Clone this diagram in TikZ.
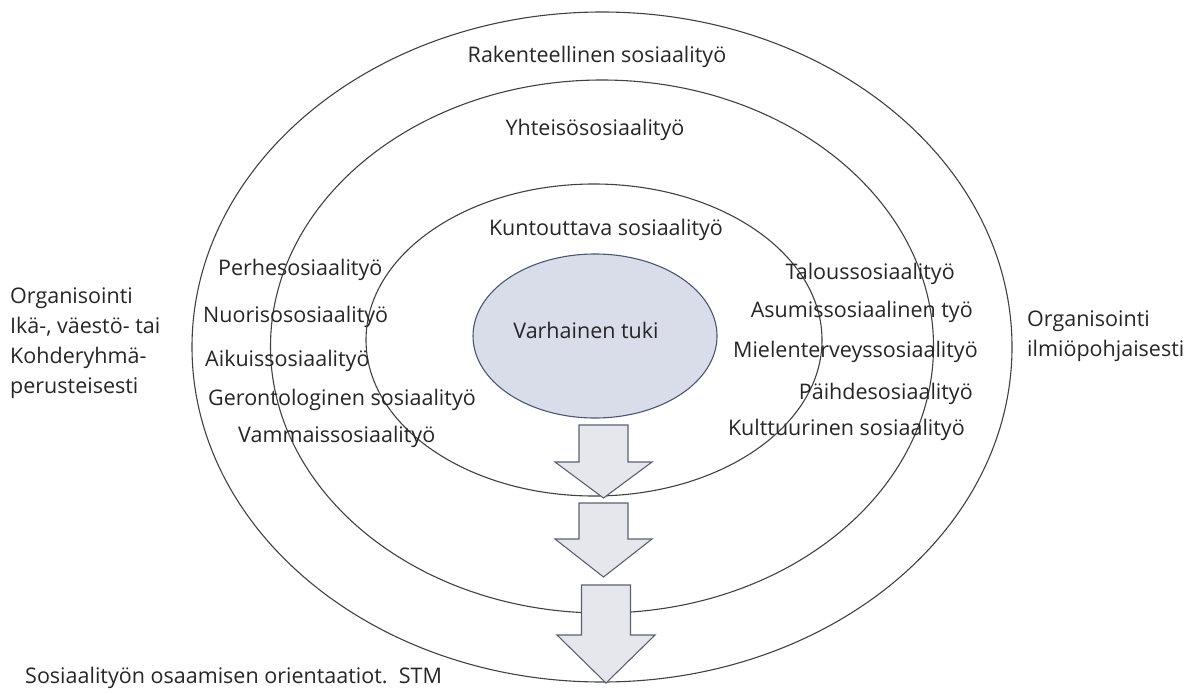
\documentclass[tikz,border=0pt]{standalone}
\usepackage{fontspec}
\setmainfont{Open Sans}
\usetikzlibrary{shapes.geometric}
\definecolor{ringline}{HTML}{3F4147}
\definecolor{corefill}{HTML}{D8DDE9}
\definecolor{coreline}{HTML}{4A5672}
\definecolor{arrfill}{HTML}{E6E7EC}
\definecolor{arrline}{HTML}{5A6175}
\tikzset{
  ring/.style={ellipse, draw=ringline, line width=1.1pt, inner sep=0pt},
  core/.style={ellipse, draw=coreline, fill=corefill, line width=1.1pt, inner sep=0pt},
  lbl/.style={inner sep=0pt, font=\fontsize{21.5}{30}\selectfont, text=black!85},
  blockarrow/.style={draw=arrline, fill=arrfill, line width=1.1pt, line join=miter}
}
\begin{document}
\begin{tikzpicture}[x=1pt,y=-1pt]
\useasboundingbox (0,0) rectangle (1190,693);
% rings
\node[ring, minimum width=820, minimum height=670] (outer) at (602,347) {};
\node[ring, minimum width=663, minimum height=533] (middle) at (602,346.5) {};
\node[ring, minimum width=456, minimum height=312] (inner) at (594,340) {};
\node[core, minimum width=244, minimum height=164] (core) at (595,336) {};
% arrows
\coordinate (a1) at (603.5,425);
\coordinate (a2) at (603.5,503);
\coordinate (a3) at (606,585);
\draw[blockarrow] (a1) ++(-24.5,0) -- ++(49,0) -- ++(0,37) -- ++(24,0) -- ++(-48.5,36) -- ++(-48.5,-36) -- ++(24,0) -- cycle;
\draw[blockarrow] (a2) ++(-24.5,0) -- ++(49,0) -- ++(0,36) -- ++(24,0) -- ++(-48.5,38) -- ++(-48.5,-38) -- ++(24,0) -- cycle;
\draw[blockarrow] (a3) ++(-24.5,0) -- ++(49,0) -- ++(0,50) -- ++(24.5,0) -- ++(-49,48) -- ++(-49,-48) -- ++(24.5,0) -- cycle;
% centre labels
\node[lbl] (rak) at (597,57) {Rakenteellinen sosiaalityö};
\node[lbl] (yht) at (595,130) {Yhteisösosiaalityö};
\node[lbl] (kun) at (606,230) {Kuntouttava sosiaalityö};
\node[lbl] (var) at (586,330) {Varhainen tuki};
% left labels
\node[lbl, anchor=west] (per) at (218,270) {Perhesosiaalityö};
\node[lbl, anchor=west] (nuo) at (203,317) {Nuorisososiaalityö};
\node[lbl, anchor=west] (aik) at (205,361) {Aikuissosiaalityö};
\node[lbl, anchor=west] (ger) at (208,400) {Gerontologinen sosiaalityö};
\node[lbl, anchor=west] (vam) at (238,437) {Vammaissosiaalityö};
% right labels
\node[lbl, anchor=east] (tal) at (955,274) {Taloussosiaalityö};
\node[lbl, anchor=east] (asu) at (973,312) {Asumissosiaalinen työ};
\node[lbl, anchor=east] (mie) at (978,352) {Mielenterveyssosiaalityö};
\node[lbl, anchor=east] (pai) at (973,394) {Päihdesosiaalityö};
\node[lbl, anchor=east] (kul) at (965,430) {Kulttuurinen sosiaalityö};
% side labels
\node[lbl, anchor=north west, align=left] (orgl) at (10,288) {Organisointi\\Ikä-, väestö- tai\\Kohderyhmä-\\perusteisesti};
\node[lbl, anchor=north west, align=left] (orgr) at (1027,311) {Organisointi\\ilmiöpohjaisesti};
% source
\node[lbl, anchor=west] (src) at (25,678) {Sosiaalityön osaamisen orientaatiot.\ \ STM};
\end{tikzpicture}
\end{document}
